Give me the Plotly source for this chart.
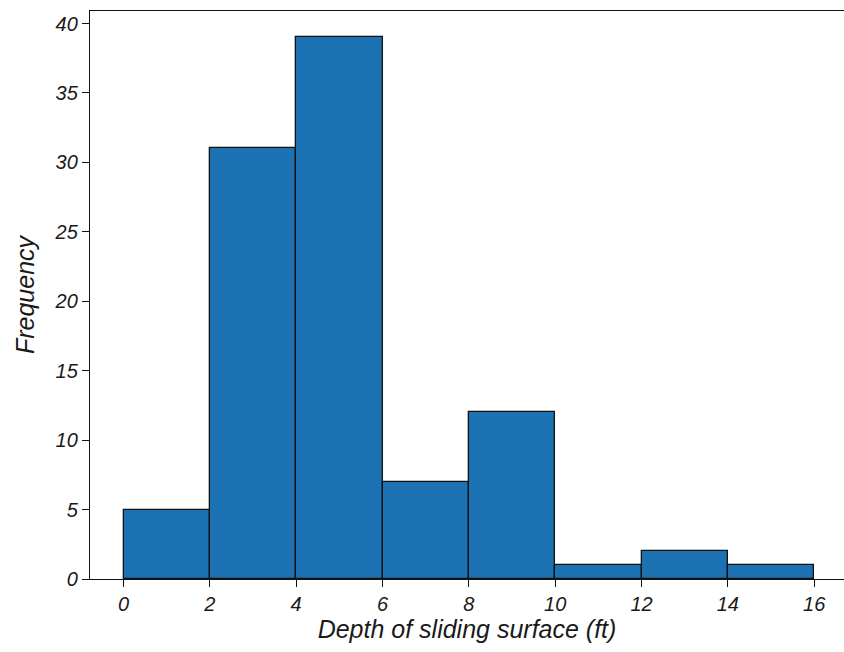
import plotly.graph_objects as go

# Histogram of landslide sliding-surface depths (2 ft bins)
bin_edges = [0, 2, 4, 6, 8, 10, 12, 14, 16]
counts = [5, 31, 39, 7, 12, 1, 2, 1]

x_ticks = [0, 2, 4, 6, 8, 10, 12, 14, 16]
y_ticks = [0, 5, 10, 15, 20, 25, 30, 35, 40]

centers = [(a + b) / 2 for a, b in zip(bin_edges[:-1], bin_edges[1:])]
widths = [b - a for a, b in zip(bin_edges[:-1], bin_edges[1:])]

FONT = "Liberation Sans, Arial, sans-serif"
TXT = "#1a1a1a"

fig = go.Figure(
    go.Bar(
        x=centers,
        y=counts,
        width=widths,
        marker=dict(color="#1c71b2", line=dict(color="#111111", width=1.3)),
        hoverinfo="x+y",
    )
)

fig.update_layout(
    width=844,
    height=652,
    margin=dict(l=90, r=0, t=11, b=73),
    paper_bgcolor="white",
    plot_bgcolor="white",
    showlegend=False,
    bargap=0,
    font=dict(family=FONT, color=TXT),
)

fig.update_xaxes(
    range=[-0.776, 16.69],
    tickvals=x_ticks,
    ticktext=[str(v) for v in x_ticks],
    ticks="outside",
    ticklen=7,
    tickwidth=1,
    tickcolor="#111111",
    tickfont=dict(size=20, style="italic", family=FONT, color=TXT),
    showline=True,
    linecolor="#111111",
    linewidth=1.3,
    mirror=True,
    showgrid=False,
    zeroline=False,
    title=dict(
        text="Depth of sliding surface (ft)",
        font=dict(size=25, style="italic", family=FONT, color=TXT),
        standoff=0,
    ),
)

fig.update_yaxes(
    range=[0, 40.9],
    tickvals=y_ticks,
    ticktext=[str(v) for v in y_ticks],
    ticks="outside",
    ticklen=7,
    tickwidth=1,
    tickcolor="#111111",
    tickfont=dict(size=20, style="italic", family=FONT, color=TXT),
    showline=True,
    linecolor="#111111",
    linewidth=1.3,
    mirror=False,
    showgrid=False,
    zeroline=False,
    title=dict(
        text="Frequency",
        font=dict(size=25, style="italic", family=FONT, color=TXT),
        standoff=12,
    ),
)

fig.write_html("out.html")
